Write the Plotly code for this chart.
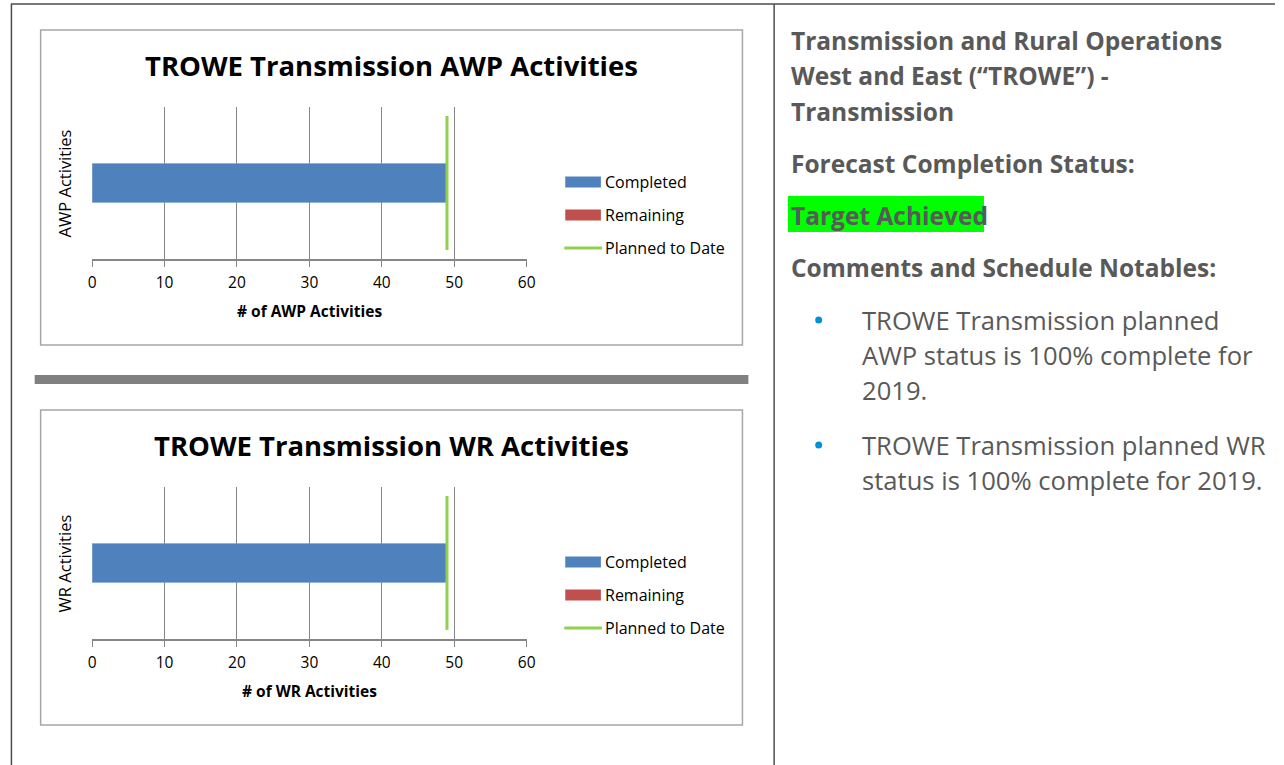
import plotly.graph_objects as go

W, H = 1284, 765

# ---------------- data ----------------
chart_titles = ["TROWE Transmission AWP Activities", "TROWE Transmission WR Activities"]
y_titles = ["AWP Activities", "WR Activities"]
x_titles = ["# of AWP Activities", "# of WR Activities"]
completed = [49, 49]
remaining = [0, 0]
planned_to_date = [49, 49]
series_names = ["Completed", "Remaining", "Planned to Date"]
x_ticks = [0, 10, 20, 30, 40, 50, 60]

heading_lines = ["Transmission and Rural Operations", "West and East (\u201cTROWE\u201d) -", "Transmission"]
status_label = "Forecast Completion Status:"
status_value = "Target Achieved"
comments_label = "Comments and Schedule Notables:"
bullets = [
    ["TROWE Transmission planned", "AWP status is 100% complete for", "2019."],
    ["TROWE Transmission planned WR", "status is 100% complete for 2019."],
]

# ---------------- style ----------------
C_BLUE = "#4F81BD"
C_RED = "#C0504D"
C_GREEN = "#92D050"
GRID = "#868686"
TXT = "#595959"
FONT = "Open Sans"


def px(x):
    return x / W


def py(y):
    return 1 - y / H


fig = go.Figure()
shapes = []
annotations = []

offsets = [0, 380]
for i, off in enumerate(offsets):
    xa = "x" if i == 0 else "x2"
    ya = "y" if i == 0 else "y2"
    fig.add_trace(go.Bar(
        x=[completed[i]], y=[0], orientation="h", name=series_names[0],
        marker=dict(color=C_BLUE, line=dict(color="#7FA3CF", width=0.5)),
        width=0.256, xaxis=xa, yaxis=ya, showlegend=False, hoverinfo="x+name"))
    fig.add_trace(go.Bar(
        x=[remaining[i]], y=[0], orientation="h", name=series_names[1],
        marker=dict(color=C_RED), base=[completed[i]],
        width=0.256, xaxis=xa, yaxis=ya, showlegend=False, hoverinfo="x+name"))
    fig.add_trace(go.Scatter(
        x=[planned_to_date[i], planned_to_date[i]], y=[-0.44, 0.44], mode="lines",
        name=series_names[2], line=dict(color=C_GREEN, width=3),
        xaxis=xa, yaxis=ya, showlegend=False, hoverinfo="x+name"))

    # chart frame
    shapes.append(dict(type="rect", xref="paper", yref="paper",
                       x0=px(37), x1=px(746), y0=py(30 + off), y1=py(345 + off),
                       line=dict(color="#A6A6A6", width=1.5), fillcolor="rgba(0,0,0,0)", layer="below"))
    # chart title
    annotations.append(dict(text="<b>%s</b>" % chart_titles[i], xref="paper", yref="paper",
                            x=px(391), y=py(65 + off), xanchor="center", yanchor="middle",
                            showarrow=False, font=dict(family=FONT, size=27.5, color="#000000")))
    # axis titles
    annotations.append(dict(text=y_titles[i], xref="paper", yref="paper",
                            x=px(61), y=py(183 + off), xanchor="center", yanchor="middle",
                            textangle=-90, showarrow=False,
                            font=dict(family=FONT, size=16.5, color="#000000")))
    annotations.append(dict(text="<b>%s</b>" % x_titles[i], xref="paper", yref="paper",
                            x=px(309), y=py(311 + off), xanchor="center", yanchor="middle",
                            showarrow=False, font=dict(family=FONT, size=15.5, color="#000000")))
    # legend (manual)
    leg_y = [182, 215, 248]
    for k, name in enumerate(series_names):
        yy = leg_y[k] + off
        if k < 2:
            shapes.append(dict(type="rect", xref="paper", yref="paper",
                               x0=px(567), x1=px(603), y0=py(yy + 5.5), y1=py(yy - 5.5),
                               fillcolor=[C_BLUE, C_RED][k], line=dict(width=0)))
        else:
            shapes.append(dict(type="line", xref="paper", yref="paper",
                               x0=px(566), x1=px(604), y0=py(yy), y1=py(yy),
                               line=dict(color=C_GREEN, width=3)))
        annotations.append(dict(text=name, xref="paper", yref="paper",
                                x=px(605), y=py(yy), xanchor="left", yanchor="middle",
                                showarrow=False, font=dict(family=FONT, size=16, color="#000000")))

axis_common = dict(range=[0, 60], tickmode="array", tickvals=x_ticks,
                   showgrid=True, gridcolor=GRID, gridwidth=1,
                   showline=True, linecolor=GRID, linewidth=1.5,
                   ticks="outside", ticklen=6, tickcolor=GRID, tickwidth=1,
                   ticklabelstandoff=3,
                   tickfont=dict(family=FONT, size=15.5, color="#000000"),
                   zeroline=False, fixedrange=True)
yaxis_common = dict(range=[-0.5, 0.5], showticklabels=False, showgrid=False,
                    zeroline=False, showline=False, ticks="", fixedrange=True)

fig.update_layout(
    xaxis=dict(domain=[px(89), px(528)], anchor="y", **axis_common),
    yaxis=dict(domain=[py(259), py(107)], anchor="x", **yaxis_common),
    xaxis2=dict(domain=[px(89), px(528)], anchor="y2", **axis_common),
    yaxis2=dict(domain=[py(639), py(487)], anchor="x2", **yaxis_common),
)

# separator bar between charts
shapes.append(dict(type="rect", xref="paper", yref="paper",
                   x0=px(31), x1=px(752), y0=py(384), y1=py(375),
                   fillcolor="#808080", line=dict(width=0)))
# document table borders
shapes.append(dict(type="line", xref="paper", yref="paper", x0=px(7), x1=1, y0=py(4), y1=py(4),
                   line=dict(color="#4D4D4D", width=1.5)))
shapes.append(dict(type="line", xref="paper", yref="paper", x0=px(7.5), x1=px(7.5), y0=py(4), y1=0,
                   line=dict(color="#4D4D4D", width=1.5)))
shapes.append(dict(type="line", xref="paper", yref="paper", x0=px(778), x1=px(778), y0=py(4), y1=0,
                   line=dict(color="#4D4D4D", width=1.5)))

# right-hand text panel
TX = 793
head_font = dict(family=FONT, size=24.5, color=TXT)
for j, line in enumerate(heading_lines):
    annotations.append(dict(text="<b>%s</b>" % line, xref="paper", yref="paper",
                            x=px(TX), y=py(40 + 35.5 * j), xanchor="left", yanchor="middle",
                            showarrow=False, font=head_font))
annotations.append(dict(text="<b>%s</b>" % status_label, xref="paper", yref="paper",
                        x=px(TX), y=py(163), xanchor="left", yanchor="middle",
                        showarrow=False, font=head_font))
shapes.append(dict(type="rect", xref="paper", yref="paper",
                   x0=px(792), x1=px(990), y0=py(232), y1=py(196),
                   fillcolor="#00FF00", line=dict(width=0)))
annotations.append(dict(text="<b>%s</b>" % status_value, xref="paper", yref="paper",
                        x=px(TX), y=py(215), xanchor="left", yanchor="middle",
                        showarrow=False, font=head_font))
annotations.append(dict(text="<b>%s</b>" % comments_label, xref="paper", yref="paper",
                        x=px(TX), y=py(267), xanchor="left", yanchor="middle",
                        showarrow=False, font=head_font))

body_font = dict(family=FONT, size=25.6, color=TXT)
bullet_starts = [320, 445]
for b, lines in enumerate(bullets):
    y0 = bullet_starts[b]
    shapes.append(dict(type="circle", xref="paper", yref="paper",
                       x0=px(819.5), x1=px(826.5), y0=py(y0 + 3.5), y1=py(y0 - 3.5),
                       fillcolor="#0092D8", line=dict(width=0)))
    for j, line in enumerate(lines):
        annotations.append(dict(text=line, xref="paper", yref="paper",
                                x=px(865), y=py(y0 + 35.5 * j), xanchor="left", yanchor="middle",
                                showarrow=False, font=body_font))

fig.update_layout(
    width=W, height=H,
    margin=dict(l=0, r=0, t=0, b=0),
    paper_bgcolor="white", plot_bgcolor="white",
    barmode="overlay", showlegend=False,
    shapes=shapes, annotations=annotations,
)

fig.write_html("out.html", config={"displayModeBar": False},
               post_script="document.body.style.margin='0px';")
